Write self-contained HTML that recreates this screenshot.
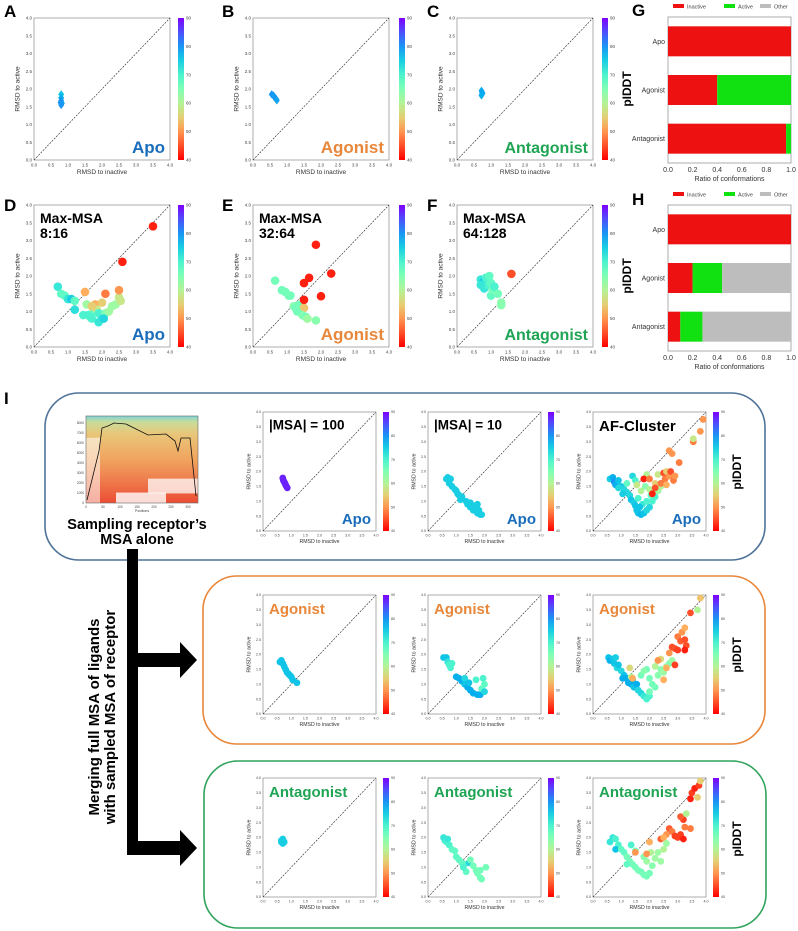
<!DOCTYPE html>
<html><head><meta charset="utf-8">
<style>
html,body{margin:0;padding:0;background:#fff;}
svg{display:block;font-family:"Liberation Sans",Arial,sans-serif;}
</style></head>
<body>
<svg id="fig" xmlns="http://www.w3.org/2000/svg" width="798" height="931" viewBox="0 0 798 931">
<defs>
<linearGradient id="cbg" x1="0" y1="0" x2="0" y2="1"></linearGradient>
<linearGradient id="msag" x1="0" y1="0" x2="0" y2="1">
<stop offset="0" stop-color="#7fd3d8"/><stop offset="0.07" stop-color="#c9dc9a"/><stop offset="0.2" stop-color="#e8c77a"/><stop offset="0.5" stop-color="#f1a45e"/><stop offset="0.75" stop-color="#ee7a4c"/><stop offset="1" stop-color="#ec4d33"/>
</linearGradient>
</defs>
<g id="root"></g>
</svg>
<script>
// ---------- data ----------
const ticksRmsd = [0,0.5,1,1.5,2,2.5,3,3.5,4];
const ticksPlddt = [40,50,60,70,80,90];
const ticksRatio = [0,0.2,0.4,0.6,0.8,1.0];
const barCats = ["Apo","Agonist","Antagonist"];
const gInactive = [1.0,0.4,0.96];
const gActive = [0.0,0.6,0.04];
const gOther = [0.0,0.0,0.0];
const hInactive = [1.0,0.2,0.1];
const hActive = [0.0,0.24,0.18];
const hOther = [0.0,0.56,0.72];

const aX=[0.8,0.8,0.8,0.82,0.78,0.8]; const aY=[1.85,1.75,1.67,1.6,1.62,1.55]; const aP=[76,78,80,79,80,80];
const bX=[0.55,0.6,0.62,0.65,0.68,0.7]; const bY=[1.85,1.82,1.78,1.75,1.72,1.68]; const bP=[80,80,79,80,80,79];
const cX=[0.72,0.74,0.73,0.75,0.72]; const cY=[1.95,1.9,1.85,1.88,1.82]; const cP=[78,79,80,79,78];

const dX=[0.7,0.8,0.9,1.0,1.1,1.2,1.2,1.5,1.55,1.6,1.7,1.75,1.8,1.85,1.9,1.9,2.0,2.1,2.2,2.1,2.3,2.4,2.5,2.5,2.55,2.0,1.7,2.6,3.5,1.45,1.65,2.05];
const dY=[1.7,1.5,1.45,1.35,1.35,1.3,1.05,1.55,1.2,0.9,0.8,1.0,1.2,1.05,0.95,0.7,0.8,0.95,1.0,1.5,1.15,1.2,1.4,1.6,1.3,1.25,1.15,2.4,3.4,0.9,0.85,0.8];
const dP=[72,68,68,72,75,68,73,52,62,70,70,68,52,58,70,72,72,65,62,48,62,62,58,50,58,55,55,42,42,70,70,74];

const eX=[0.65,0.85,0.95,1.05,1.1,1.2,1.25,1.35,1.5,1.45,1.55,1.6,1.85,1.5,1.5,1.65,1.85,2.0,2.3,1.3];
const eY=[1.87,1.6,1.55,1.45,1.45,1.15,1.1,1.18,1.1,0.9,0.85,0.8,0.75,1.33,1.8,1.95,2.88,1.43,2.07,1.0];
const eP=[66,66,66,66,66,64,66,66,54,64,66,62,64,42,42,42,42,42,42,66];

const fX=[0.7,0.75,0.8,0.8,0.85,0.9,0.95,1.0,1.0,1.05,1.1,0.7,1.2,1.3,1.3,1.6];
const fY=[1.9,1.8,1.85,1.65,1.95,1.75,2.0,1.8,1.45,1.6,1.7,1.75,1.5,1.25,1.18,2.06];
const fP=[72,75,76,72,70,70,68,68,68,66,70,72,66,64,64,45];

const i1X=[0.7,0.72,0.75,0.78,0.8,0.83,0.86]; const i1Y=[1.78,1.7,1.65,1.6,1.55,1.5,1.45]; const i1P=[88,88,88,88,88,88,88];
const i2X=[0.65,0.7,0.75,0.8,0.75,0.85,0.95,1.0,1.05,1.1,1.2,1.15,1.35,1.4,1.5,1.5,1.6,1.6,1.7,1.75,1.85,1.9,1.75,1.8];
const i2Y=[1.75,1.8,1.7,1.75,1.6,1.5,1.4,1.35,1.25,1.2,1.15,1.05,1.0,0.9,0.95,0.8,0.85,0.7,0.75,0.6,0.55,0.55,0.9,0.7];
const i2P=[75,75,75,75,75,75,75,75,75,75,75,75,75,75,75,75,75,75,75,75,75,75,75,75];
const i3X=[0.6,0.7,0.75,0.8,0.9,1.0,1.1,1.2,1.3,1.35,1.45,1.5,1.55,1.6,1.7,1.8,1.9,2.0,1.75,1.6,1.9,2.1,2.2,1.4,1.5,1.2,0.9,1.05,1.65,2.05,1.7,1.85,2.0,2.1,2.3,2.4,1.55,2.2,1.9,2.3,1.8,2.0,2.2,2.1,2.4,2.5,2.6,2.55,2.7,2.75,2.85,2.9,2.7,2.8,3.05,3.55,3.55,3.8,3.9,2.6];
const i3Y=[1.75,1.8,1.65,1.55,1.7,1.5,1.4,1.3,1.2,1.05,0.95,0.85,0.7,0.6,0.55,0.6,0.7,0.8,0.9,1.1,1.0,1.0,1.15,1.85,1.7,1.6,1.45,1.25,0.8,1.2,1.35,1.5,1.4,1.3,1.35,1.5,1.55,1.6,1.9,1.9,1.75,1.75,1.45,1.25,1.6,1.95,2.0,1.75,1.85,2.0,1.7,1.85,2.7,2.6,2.3,3.0,3.1,3.35,3.75,1.55];
const i3P=[75,78,80,78,76,75,74,74,74,76,75,76,76,76,77,76,74,74,72,70,70,70,70,74,70,68,74,75,76,68,60,64,60,58,62,60,58,55,60,58,42,48,45,42,48,45,55,48,50,45,48,50,50,50,48,48,58,50,50,52];

const o1X=[0.6,0.65,0.7,0.75,0.8,0.85,0.9,0.95,1.0,1.05,1.2]; const o1Y=[1.75,1.8,1.7,1.6,1.5,1.4,1.35,1.3,1.25,1.15,1.05]; const o1P=[76,76,76,76,76,76,76,76,76,76,76];
const o2X=[0.55,0.65,0.7,0.75,0.8,0.85,1.0,1.1,1.2,1.3,1.3,1.4,1.5,1.6,1.7,1.75,1.85,1.9,1.95,2.0,2.0,1.45];
const o2Y=[1.9,1.9,1.75,1.65,1.55,1.7,1.25,1.2,1.1,1.2,1.0,0.9,0.8,0.7,1.15,0.65,0.65,0.85,1.2,1.0,0.75,1.05];
const o2P=[76,76,72,70,70,70,78,78,78,74,76,78,78,78,70,78,78,68,70,68,74,76];
const o3X=[0.55,0.6,0.7,0.75,0.85,0.9,1.0,1.1,1.2,1.25,1.35,1.45,1.55,1.6,1.7,1.8,1.9,2.0,1.4,1.05,0.8,1.7,1.9,2.0,2.1,2.2,2.3,2.4,2.5,2.6,2.7,2.8,1.35,2.2,1.3,2.0,1.8,1.4,2.4,2.6,2.7,2.8,2.9,3.0,3.1,3.25,3.3,3.25,3.0,2.9,3.15,3.25,3.45,3.7,3.8,2.5,2.3];
const o3Y=[1.9,1.8,1.85,1.7,1.55,1.65,1.45,1.3,1.2,1.05,1.0,0.9,1.0,0.8,0.7,0.6,0.5,0.6,1.15,1.2,1.9,1.3,1.5,1.2,1.0,0.9,1.3,1.5,1.4,1.6,1.7,1.8,1.25,1.6,1.55,0.75,1.45,1.2,1.85,1.55,2.05,2.25,2.2,2.6,2.45,2.5,2.3,2.15,2.15,1.65,2.75,2.9,3.4,3.5,3.9,1.15,1.8];
const o3P=[76,78,76,76,74,76,74,76,78,78,78,76,78,74,74,72,70,70,78,78,75,66,66,66,66,66,64,64,62,62,64,62,60,60,56,66,64,52,56,52,50,45,45,48,46,45,45,42,44,44,50,52,45,60,54,52,50];

const g1X=[0.65,0.65,0.7,0.7,0.75]; const g1Y=[1.9,1.85,1.95,1.8,1.85]; const g1P=[75,75,75,75,75];
const g2X=[0.55,0.6,0.65,0.7,0.75,0.85,0.95,1.0,1.1,1.2,1.3,1.35,1.45,1.5,1.6,1.7,1.75,1.85,1.85,1.9,2.05,1.25];
const g2Y=[2.0,1.9,1.85,1.95,1.75,1.6,1.55,1.35,1.25,1.15,1.1,0.85,1.15,1.25,1.05,0.9,0.8,0.9,0.65,0.6,1.0,1.0];
const g2P=[72,72,70,72,70,68,68,68,68,68,68,68,74,66,66,66,66,66,66,66,66,70];
const g3X=[0.6,0.7,0.8,0.9,0.8,1.0,1.1,1.2,1.3,1.4,1.5,1.6,1.7,1.8,1.9,2.0,1.2,1.35,1.5,1.9,2.1,2.2,2.3,2.4,2.5,1.8,2.05,2.6,1.5,1.9,2.0,2.4,2.6,2.7,2.8,2.9,3.0,3.1,3.2,3.2,3.1,3.25,3.3,3.45,3.5,3.6,3.7,3.75,3.8,3.45,2.5];
const g3Y=[1.85,2.0,1.95,1.75,1.6,1.6,1.5,1.35,1.2,1.1,1.0,0.9,0.85,0.75,0.7,0.8,1.1,1.75,1.55,1.2,1.05,1.3,1.5,1.2,1.6,1.35,1.5,1.8,1.5,1.45,1.85,1.95,2.1,2.3,2.2,2.05,2.0,2.1,1.95,2.6,2.7,2.35,2.8,3.3,3.5,3.65,3.35,3.75,3.9,2.3,2.0];
const g3P=[72,72,70,70,76,68,68,66,66,66,66,66,66,66,66,66,68,70,66,62,64,62,62,62,60,64,60,62,50,50,52,46,50,46,48,44,44,44,42,44,46,48,60,42,44,42,55,44,55,48,52];

// ---------- helpers ----------
const NS="http://www.w3.org/2000/svg";
const root=document.getElementById("root");
function mk(tag,attrs,parent){const e=document.createElementNS(NS,tag);for(const k in attrs)e.setAttribute(k,attrs[k]);(parent||root).appendChild(e);return e;}
function txt(s,attrs,parent){const e=mk("text",attrs,parent);e.textContent=s;return e;}
function rainbow(v){let x=(90-v)/50;x=Math.max(0,Math.min(1,x));
 const r=Math.min(1,Math.abs(2*x-0.5)),g=Math.sin(Math.PI*x),b=Math.cos(Math.PI*x/2);
 return "rgb("+Math.round(r*255)+","+Math.round(g*255)+","+Math.round(Math.max(0,b)*255)+")";}
const grad=document.getElementById("cbg");
for(let i=0;i<=10;i++){const s=document.createElementNS(NS,"stop");s.setAttribute("offset",i/10);s.setAttribute("stop-color",rainbow(90-i*5));grad.appendChild(s);}

const APO="#1a6dbb",AGO="#e8873a",ANT="#1fa454";

function scatter(o){
 const g=mk("g",{});
 
 
 const sx=v=>o.x+v/4*o.w, sy=v=>o.y+o.h-v/4*o.h;
 const fr=mk("rect",{x:o.x,y:o.y,width:o.w,height:o.h,fill:"#fff",stroke:"#999","stroke-width":0.8},g);
 
 
 ticksRmsd.forEach(t=>{
  const tx=txt(t.toFixed(1),{x:sx(t),y:o.y+o.h+o.tf+2,"font-size":o.tf,"text-anchor":"middle",fill:"#444"},g);
  
  
  const ty=txt(t.toFixed(1),{x:o.x-2,y:sy(t)+o.tf/3,"font-size":o.tf,"text-anchor":"end",fill:"#444"},g);
  
  
 });
 const xl=txt("RMSD to inactive",{x:o.x+o.w/2,y:o.y+o.h+o.tf+2+o.lf+1,"font-size":o.lf,"text-anchor":"middle",fill:"#333"},g);
 
 
 const yx=o.x-o.tf*2.6-3, yy=o.y+o.h/2;
 const yl=txt("RMSD to active",{x:yx,y:yy,"font-size":o.lf,"text-anchor":"middle",fill:"#333",transform:"rotate(-90 "+yx+" "+yy+")"},g);
 
 
 const dg=mk("line",{x1:sx(0),y1:sy(0),x2:sx(4),y2:sy(4),stroke:"#222","stroke-width":0.6,"stroke-dasharray":"2,1.2"},g);
 
 
 for(let i=0;i<o.xs.length;i++){
  const cx=sx(o.xs[i]),cy=sy(o.ys[i]),c=rainbow(o.ps[i]);let m;
  if(o.marker==="d"){const r=o.r;m=mk("polygon",{points:(cx)+","+(cy-r*1.4)+" "+(cx+r)+","+cy+" "+cx+","+(cy+r*1.4)+" "+(cx-r)+","+cy,fill:c},g);}
  else m=mk("circle",{cx:cx,cy:cy,r:o.r,fill:c},g);
  
  
 }
 const cb=mk("rect",{x:o.cbx,y:o.y,width:o.cbw,height:o.h,fill:"url(#cbg)"},g);
 
 
 ticksPlddt.forEach(t=>{
  const yv=o.y+o.h-(t-40)/50*o.h;
  const ct=txt(String(t),{x:o.cbx+o.cbw+2,y:yv+o.tf/3,"font-size":o.tf,fill:"#444"},g);
  
  
 });
 if(o.title){o.title.forEach((s,k)=>{
  const t=txt(s,{x:o.x+6,y:o.y+o.tfs+4+k*(o.tfs+1),"font-size":o.tfs,"font-weight":"bold",fill:o.tcol||"#000"},g);
  
  
 });}
 if(o.tag){const t=txt(o.tag,{x:o.x+o.w-5,y:o.y+o.h-7,"font-size":o.tagfs,"font-weight":"bold","text-anchor":"end",fill:o.tagcol},g);
  
  }
}
function letter(s,x,y){const t=txt(s,{x:x,y:y,"font-size":17,"font-weight":"bold",fill:"#000"});
 
 }
function plddtLabel(x,y){const t=txt("pIDDT",{x:x,y:y,"font-size":12,"font-weight":"bold","text-anchor":"middle",transform:"rotate(-90 "+x+" "+y+")"});
 
 }

// ---------- top rows ----------
const big={tf:4.5,lf:6.5,w:136,h:142,cbw:6};
const cols=[{x:34,cb:178},{x:253,cb:399},{x:457,cb:602}];
function bp(extra){return Object.assign({},big,extra);}
scatter(bp({name:"panel-a-apo",x:34,y:18,cbx:178,xs:aX,ys:aY,ps:aP,marker:"d",r:3,tag:"Apo",tagcol:APO,tagfs:17}));
scatter(bp({name:"panel-b-agonist",x:253,y:18,cbx:399,xs:bX,ys:bY,ps:bP,marker:"d",r:3,tag:"Agonist",tagcol:AGO,tagfs:17}));
scatter(bp({name:"panel-c-antagonist",x:457,y:18,cbx:602,xs:cX,ys:cY,ps:cP,marker:"d",r:3,tag:"Antagonist",tagcol:ANT,tagfs:16}));
scatter(bp({name:"panel-d-apo-maxmsa",x:34,y:205,cbx:178,xs:dX,ys:dY,ps:dP,marker:"c",r:4.3,tag:"Apo",tagcol:APO,tagfs:17,title:["Max-MSA","8:16"],tfs:14}));
scatter(bp({name:"panel-e-agonist-maxmsa",x:253,y:205,cbx:399,xs:eX,ys:eY,ps:eP,marker:"c",r:4.3,tag:"Agonist",tagcol:AGO,tagfs:17,title:["Max-MSA","32:64"],tfs:14}));
scatter(bp({name:"panel-f-antagonist-maxmsa",x:457,y:205,cbx:602,xs:fX,ys:fY,ps:fP,marker:"c",r:4.3,tag:"Antagonist",tagcol:ANT,tagfs:16,title:["Max-MSA","64:128"],tfs:14}));
letter("A",4,17);letter("B",222,17);letter("C",427,17);
letter("D",4,211);letter("E",222,211);letter("F",427,211);
plddtLabel(631,89);plddtLabel(631,276);

// ---------- bar charts ----------
function bars(o){
 const g=mk("g",{});
 
 
 const sx=v=>o.x+v*o.w;
 const fr=mk("rect",{x:o.x,y:o.y,width:o.w,height:o.h,fill:"#fff",stroke:"#999","stroke-width":0.8},g);
 
 
 const band=o.h/3;
 barCats.forEach((c,i)=>{
  const cy=o.y+band*i+band/2, bh=30;
  let acc=0;
  [[o.inact,"#ee1111","inactive"],[o.act,"#11e011","active"],[o.oth,"#bdbdbd","other"]].forEach(([arr,col,nm])=>{
   const v=arr[i]; if(v>0){const r=mk("rect",{x:sx(acc),y:cy-bh/2,width:sx(acc+v)-sx(acc),height:bh,fill:col},g);
   
   } acc+=v;});
  const l=txt(c,{x:o.x-3,y:cy+2.5,"font-size":7,"text-anchor":"end",fill:"#333"},g);
  
  
 });
 ticksRatio.forEach(t=>{const l=txt(t.toFixed(1),{x:sx(t),y:o.y+o.h+9,"font-size":7,"text-anchor":"middle",fill:"#333"},g);
  
  });
 const xt=txt("Ratio of conformations",{x:o.x+o.w/2,y:o.y+o.h+18,"font-size":7,"text-anchor":"middle",fill:"#333"},g);
 
 
 const ly=o.y-10;
 [["Inactive","#ee1111",673],["Active","#11e011",724],["Other","#bdbdbd",760]].forEach(([s,c,x])=>{
  const sw=mk("rect",{x:x,y:ly-3,width:11,height:4,fill:c},g);
  
  
  const lt=txt(s,{x:x+14,y:ly+1.5,"font-size":5.5,fill:"#444"},g);
  
  
 });
}
bars({name:"panel-g-bar-chart",x:668,y:17,w:123,h:146,inact:gInactive,act:gActive,oth:gOther});
bars({name:"panel-h-bar-chart",x:668,y:205,w:123,h:146,inact:hInactive,act:hActive,oth:hOther});
letter("G",632,16);letter("H",632,205);

// ---------- section I ----------
letter("I",4,404);
function box(x,y,w,h,c,n){const r=mk("rect",{x:x,y:y,width:w,height:h,rx:34,ry:34,fill:"none",stroke:c,"stroke-width":1.6});
 
 }
box(45,393,720,167,"#4f7398","apo-section-box");
box(203,576,562,168,"#e8873a","agonist-section-box");
box(204,761,562,167,"#2fa35c","antagonist-section-box");

const sm={tf:3.6,lf:5.2,w:113,h:119,cbw:6,marker:"c",r:3.4};
function sp(e){return Object.assign({},sm,e);}
const rowY=[412,595,778];
scatter(sp({name:"apo-msa100",x:263,y:412,cbx:383,xs:i1X,ys:i1Y,ps:i1P,title:["|MSA| = 100"],tfs:13.5,tag:"Apo",tagcol:APO,tagfs:15}));
scatter(sp({name:"apo-msa10",x:428,y:412,cbx:548,xs:i2X,ys:i2Y,ps:i2P,title:["|MSA| = 10"],tfs:13.5,tag:"Apo",tagcol:APO,tagfs:15}));
scatter(sp({name:"apo-af-cluster",x:593,y:412,cbx:713,xs:i3X,ys:i3Y,ps:i3P,title:["AF-Cluster"],tfs:15,tag:"Apo",tagcol:APO,tagfs:15}));
scatter(sp({name:"agonist-msa100",x:263,y:595,cbx:383,xs:o1X,ys:o1Y,ps:o1P,title:["Agonist"],tcol:AGO,tfs:15}));
scatter(sp({name:"agonist-msa10",x:428,y:595,cbx:548,xs:o2X,ys:o2Y,ps:o2P,title:["Agonist"],tcol:AGO,tfs:15}));
scatter(sp({name:"agonist-af-cluster",x:593,y:595,cbx:713,xs:o3X,ys:o3Y,ps:o3P,title:["Agonist"],tcol:AGO,tfs:15}));
scatter(sp({name:"antagonist-msa100",x:263,y:778,cbx:383,xs:g1X,ys:g1Y,ps:g1P,title:["Antagonist"],tcol:ANT,tfs:15}));
scatter(sp({name:"antagonist-msa10",x:428,y:778,cbx:548,xs:g2X,ys:g2Y,ps:g2P,title:["Antagonist"],tcol:ANT,tfs:15}));
scatter(sp({name:"antagonist-af-cluster",x:593,y:778,cbx:713,xs:g3X,ys:g3Y,ps:g3P,title:["Antagonist"],tcol:ANT,tfs:15}));
plddtLabel(741,472);plddtLabel(741,655);plddtLabel(741,839);

// MSA coverage image
(function(){
 const g=mk("g",{});
 
 
 const x=86,y=416,w=112,h=87;
 mk("rect",{x:x,y:y,width:w,height:h,fill:"url(#msag)"},g);
 mk("polygon",{points:x+","+(y+h)+" "+x+","+(y+h*0.25)+" "+(x+14)+","+(y+h*0.25)+" "+(x+14)+","+(y+h)+"",fill:"#fff",opacity:0.55},g);
 mk("rect",{x:x+62,y:y+h*0.72,width:50,height:h*0.17,fill:"#fff",opacity:0.75},g);
 mk("rect",{x:x+30,y:y+h*0.88,width:50,height:h*0.12,fill:"#fff",opacity:0.8},g);
 mk("path",{d:"M"+(x+1)+","+(y+h-3)+" L"+(x+13)+","+(y+35)+" L"+(x+16)+","+(y+12)+" L"+(x+22)+","+(y+10)+" L"+(x+28)+","+(y+7)+" L"+(x+40)+","+(y+8)+" L"+(x+50)+","+(y+13)+" L"+(x+62)+","+(y+19)+" L"+(x+80)+","+(y+18)+" L"+(x+89)+","+(y+25)+" L"+(x+92)+","+(y+35)+" L"+(x+95)+","+(y+22)+" L"+(x+104)+","+(y+22)+" L"+(x+110)+","+(y+80),fill:"none",stroke:"#111","stroke-width":0.8},g);
 mk("rect",{x:x,y:y,width:w,height:h,fill:"none",stroke:"#666","stroke-width":0.6},g);
 ["0","1000","2000","3000","4000","5000","6000","7000","8000"].forEach((s,i)=>{const t=txt(s,{x:x-2,y:y+h-i*10+1,"font-size":3.2,"text-anchor":"end",fill:"#444"},g);
  
  });
 ["0","50","100","150","200","250","300"].forEach((s,i)=>{const t=txt(s,{x:x+i*17,y:y+h+5,"font-size":3.2,"text-anchor":"middle",fill:"#444"},g);
  
  });
 const p=txt("Positions",{x:x+w/2,y:y+h+9,"font-size":3.5,"text-anchor":"middle",fill:"#444"},g);
 
 
})();
const s1=txt("Sampling receptor’s",{x:137,y:529,"font-size":14.5,"font-weight":"bold","text-anchor":"middle"});


const s2=txt("MSA alone",{x:137,y:544,"font-size":14.5,"font-weight":"bold","text-anchor":"middle"});



// arrow
const arr=mk("path",{d:"M127,549 L138,549 L138,653 L180,653 L180,642 L197,660 L180,678 L180,667 L138,667 L138,841 L180,841 L180,830 L197,848 L180,866 L180,855 L127,855 Z",fill:"#000"});


const m1=txt("Merging full MSA of ligands",{x:99,y:717,"font-size":15,"font-weight":"bold","text-anchor":"middle",transform:"rotate(-90 99 717)"});


const m2=txt("with sampled MSA of receptor",{x:115,y:717,"font-size":15,"font-weight":"bold","text-anchor":"middle",transform:"rotate(-90 115 717)"});


</script>
</body></html>
